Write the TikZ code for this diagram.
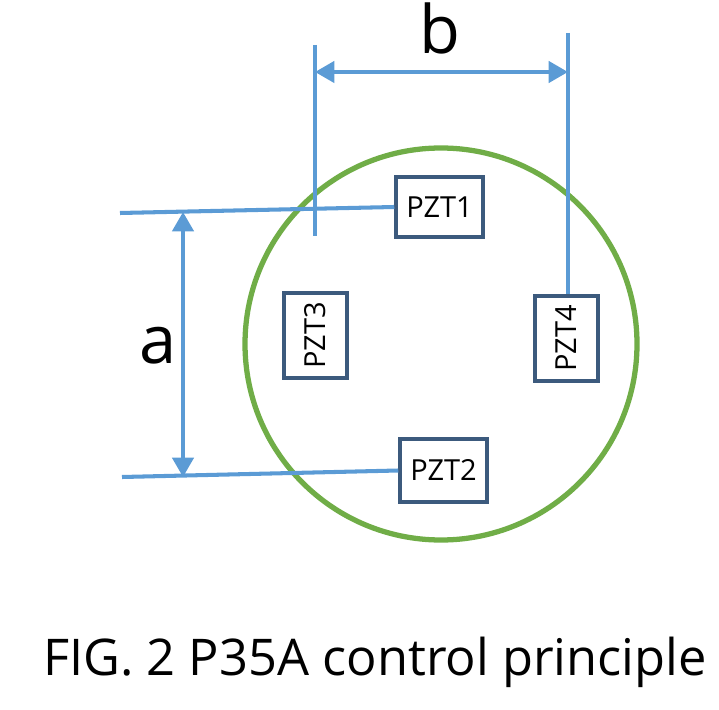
\documentclass[tikz,border=0pt]{standalone}
\usepackage{fontspec}
\setmainfont{Open Sans}
\usetikzlibrary{arrows.meta}
\definecolor{lb}{RGB}{91,155,213}
\definecolor{gr}{RGB}{112,173,71}
\definecolor{bx}{RGB}{60,90,125}
\begin{document}
\begin{tikzpicture}[x=0.02cm,y=-0.02cm,
  pzt/.style={draw=bx,line width=2pt,fill=white,inner sep=0pt,font=\fontsize{16.5}{16.5}\selectfont},
  dim/.style={draw=lb,line width=2.3pt},
  arr/.style={dim,{Triangle[length=11pt,width=12pt]}-{Triangle[length=11pt,width=12pt]}}]
\useasboundingbox (0,0) rectangle (719,709);
\draw[gr,line width=3pt] (441,344) circle[radius=196];
\coordinate (t1) at (120,213); \coordinate (t2) at (122,477);
\coordinate (v1) at (315,45); \coordinate (v1b) at (315,236);
\coordinate (v2) at (568,33);
\node[pzt,minimum width=87*0.02cm,minimum height=60*0.02cm] (p1) at (439.5,207) {PZT1};
\node[pzt,minimum width=87*0.02cm,minimum height=63*0.02cm] (p2) at (443.5,470.5) {PZT2};
\node[pzt,minimum width=63*0.02cm,minimum height=85*0.02cm] (p3) at (315.5,335.5) {\rotatebox{90}{PZT3}};
\node[pzt,minimum width=63*0.02cm,minimum height=85*0.02cm] (p4) at (566.5,338.5) {\rotatebox{90}{PZT4}};
\draw[dim] (t1) -- (p1.west);
\draw[dim] (t2) -- (p2.west);
\draw[dim] (v1) -- (v1b);
\draw[dim] (v2) -- (p4.north -| v2);
\coordinate (a1) at (183,212); \coordinate (a2) at (183,477);
\draw[arr] (a1) -- (a2);
\coordinate (b1) at (315,72); \coordinate (b2) at (568,72);
\draw[arr] (b1) -- (b2);
\node[font=\fontsize{38}{38}\selectfont] (la) at (158,346) {a};
\node[font=\fontsize{38}{38}\selectfont] (lb) at (440,28) {b};
\node[font=\fontsize{28.8}{28.8}\selectfont] (cap) at (375,662) {FIG. 2 P35A control principle};
\end{tikzpicture}
\end{document}
